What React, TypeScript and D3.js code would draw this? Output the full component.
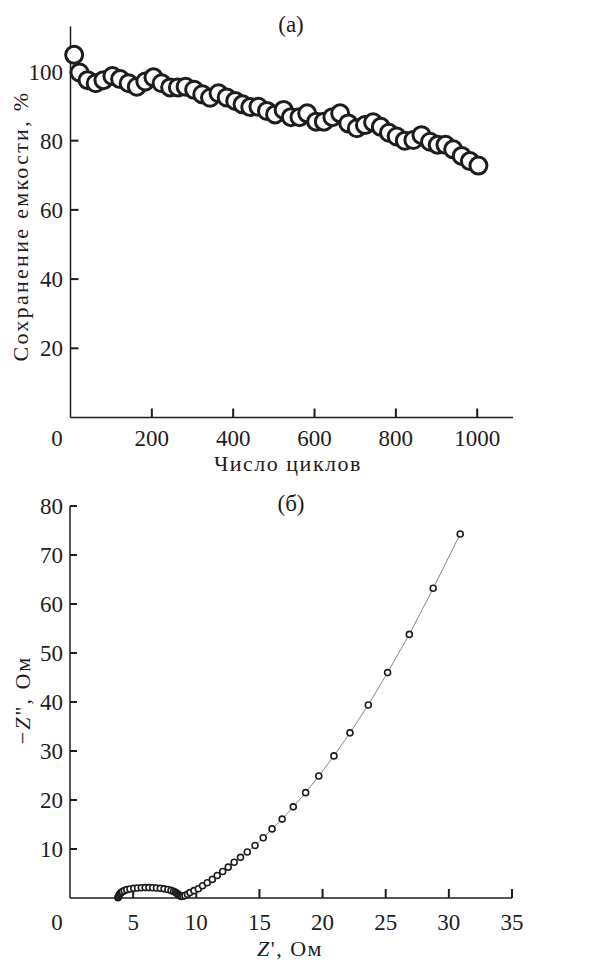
import React from "react";
import * as d3 from "d3";

const cyclesA = [9,22,42,62,81,103,122,143,163,184,204,224,245,264,283,304,324,343,364,384,405,423,442,462,483,503,524,542,563,582,604,623,644,663,683,704,724,744,763,783,802,822,843,863,884,903,922,941,962,982,1003];
const retention = [104.8,99.7,97.5,96.6,97.5,98.7,97.8,96.6,95.6,97.1,98.3,96.6,95.4,95.4,95.6,94.7,93.4,92.4,93.7,92.5,91.5,90.5,89.7,89.8,88.6,87.6,88.9,86.8,86.8,87.9,85.5,85.5,86.8,87.9,85.0,83.6,84.5,85.3,84.0,82.3,81.2,80.0,80.2,81.6,79.7,78.8,78.8,77.5,75.6,74.1,72.8];
const ticksAX = [200, 400, 600, 800, 1000];
const ticksAY = [20, 40, 60, 80, 100];

const zRe = [3.8,3.82,3.85,3.9,3.97,4.05,4.15,4.3,4.5,4.75,5.05,5.35,5.65,5.95,6.25,6.55,6.85,7.15,7.45,7.75,8.0,8.2,8.35,8.45,8.55,8.62,8.7,8.78,8.85,8.95,9.1,9.3,9.5,9.82,10.16,10.5,10.87,11.27,11.66,12.09,12.53,13.0,13.5,14.04,14.65,15.3,16.0,16.8,17.68,18.66,19.7,20.9,22.17,23.62,25.15,26.87,28.76,30.9];
const zIm = [0.05,0.2,0.4,0.65,0.9,1.1,1.3,1.5,1.7,1.85,1.97,2.05,2.1,2.12,2.12,2.1,2.05,1.97,1.87,1.72,1.55,1.35,1.15,0.95,0.75,0.6,0.45,0.35,0.3,0.35,0.5,0.75,1.1,1.5,1.9,2.5,3.1,3.8,4.6,5.4,6.3,7.3,8.3,9.4,10.7,12.3,14.1,16.1,18.6,21.5,24.9,29.0,33.7,39.4,46.0,53.8,63.2,74.3];
const ticksBX = [5, 10, 15, 20, 25, 30, 35];
const ticksBY = [10, 20, 30, 40, 50, 60, 70, 80];

const FONT = "'Liberation Serif', 'DejaVu Serif', serif";
const INK = "#1f1c1d";
const TICK_FS = 23;
const TITLE_FS = 22;

export default function App() {
  const xA = d3.scaleLinear().domain([0, 1088]).range([70.5, 513]);
  const yA = d3.scaleLinear().domain([0, 113]).range([417.5, 26.5]);
  const xB = d3.scaleLinear().domain([0, 35]).range([70, 512]);
  const yB = d3.scaleLinear().domain([0, 80]).range([898, 506]);

  const ptsA = cyclesA.map((c, i) => [c, retention[i]] as [number, number]);
  const ptsB = zRe.map((r, i) => [r, zIm[i]] as [number, number]);
  const lineB = d3.line<[number, number]>().x(d => xB(d[0])).y(d => yB(d[1]))(ptsB) || "";

  return (
    <svg width={596} height={962} style={{ position: "absolute", left: 0, top: 0, background: "#fff" }} fontFamily={FONT}>
      <rect width={596} height={962} fill="#fff" />
      {/* Panel (a) */}
      <text x={291} y={32} textAnchor="middle" fontSize={TICK_FS} fill={INK}>(a)</text>
      <line x1={xA(0)} x2={xA(0)} y1={yA(113)} y2={yA(0)} stroke={INK} strokeWidth={1.5} />
      <line x1={xA(0)} x2={xA(1088)} y1={yA(0)} y2={yA(0)} stroke={INK} strokeWidth={1.5} />
      {ticksAY.map(t => (
        <g key={"ay" + t}>
          <line x1={xA(0)} x2={xA(0) + 8} y1={yA(t)} y2={yA(t)} stroke={INK} strokeWidth={2} />
          <text x={63} y={yA(t)} dy="0.35em" textAnchor="end" fontSize={TICK_FS} fill={INK}>{t}</text>
        </g>
      ))}
      {ticksAX.map(t => (
        <g key={"ax" + t}>
          <line x1={xA(t)} x2={xA(t)} y1={yA(0)} y2={yA(0) - 9} stroke={INK} strokeWidth={2} />
          <text x={xA(t)} y={446} textAnchor="middle" fontSize={TICK_FS} fill={INK}>{t}</text>
        </g>
      ))}
      <text x={57} y={446} textAnchor="middle" fontSize={TICK_FS} fill={INK}>0</text>
      <text x={288} y={471} textAnchor="middle" fontSize={TITLE_FS} letterSpacing={1.5} fill={INK}>Число циклов</text>
      <text transform={`translate(28,226) rotate(-90)`} textAnchor="middle" fontSize={TITLE_FS} letterSpacing={2.3} fill={INK}>Сохранение емкости, %</text>
      {ptsA.map((d, i) => (
        <circle key={"a" + i} cx={xA(d[0])} cy={yA(d[1])} r={8.5} fill="#fff" stroke={INK} strokeWidth={3} />
      ))}

      {/* Panel (b) */}
      <text x={291} y={511} textAnchor="middle" fontSize={TICK_FS} fill={INK}>(б)</text>
      <line x1={xB(0)} x2={xB(0)} y1={yB(80)} y2={yB(0)} stroke={INK} strokeWidth={1.5} />
      <line x1={xB(0)} x2={xB(35)} y1={yB(0)} y2={yB(0)} stroke={INK} strokeWidth={1.5} />
      {ticksBY.map(t => (
        <g key={"by" + t}>
          <line x1={xB(0)} x2={xB(0) + 7} y1={yB(t)} y2={yB(t)} stroke={INK} strokeWidth={2} />
          <text x={63} y={yB(t)} dy="0.35em" textAnchor="end" fontSize={TICK_FS} fill={INK}>{t}</text>
        </g>
      ))}
      {ticksBX.map(t => (
        <g key={"bx" + t}>
          <line x1={xB(t)} x2={xB(t)} y1={yB(0)} y2={yB(0) - 9} stroke={INK} strokeWidth={2} />
          <text x={xB(t)} y={930} textAnchor="middle" fontSize={TICK_FS} fill={INK}>{t}</text>
        </g>
      ))}
      <text x={57} y={930} textAnchor="middle" fontSize={TICK_FS} fill={INK}>0</text>
      <text x={290} y={956} textAnchor="middle" fontSize={TITLE_FS} letterSpacing={1.5} fill={INK}><tspan fontStyle="italic">Z</tspan>', Ом</text>
      <text transform={`translate(30,700) rotate(-90)`} textAnchor="middle" fontSize={TITLE_FS} letterSpacing={2} fill={INK}>−<tspan fontStyle="italic">Z</tspan>", Ом</text>
      <path d={lineB} fill="none" stroke="#888" strokeWidth={1} />
      {ptsB.map((d, i) => (
        <circle key={"b" + i} cx={xB(d[0])} cy={yB(d[1])} r={3} fill="#fff" stroke={INK} strokeWidth={1.6} />
      ))}
    </svg>
  );
}
